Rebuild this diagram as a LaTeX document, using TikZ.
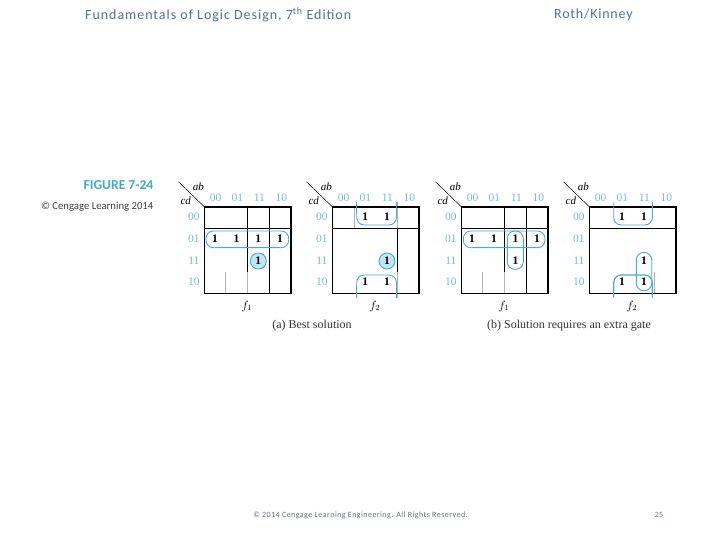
\documentclass[tikz,border=0pt]{standalone}
\usepackage{fontspec}
\setmainfont{Liberation Serif}
\newfontfamily\slidefont{Carlito}
\newfontfamily\slidespaced[LetterSpace=5.6]{Carlito}
\newfontfamily\slidetitle[LetterSpace=6.9]{Carlito}
\definecolor{kblue}{HTML}{45AFD0}
\definecolor{klabel}{HTML}{6FBFD8}
\definecolor{kfill}{HTML}{BFE6F2}
\definecolor{ktitle}{HTML}{4F7396}
\definecolor{kfig}{HTML}{3FA9CC}
\definecolor{kfoot}{HTML}{5F7480}
\newcommand{\kmapbase}[3]{%
  \begin{scope}[shift={(#1,0)}]
    \draw[diag] (-26,-25) -- (0,0);
    \draw[frame] (0,206.7) rectangle (87,293.3);
    \draw[frame,line width=1.8pt] (0,206.7) -- (87,206.7) -- (87,293.3);
    \foreach \t/\c in {00/11.4,01/33,11/55,10/77}{
      \node[coltext] (#3col\t) at (\c,198) {\t};
    }
    \foreach \t/\r in {00/217,01/239,11/261,10/281.5}{
      \node[coltext] (#3row\t) at (-10.5,\r) {\t};
    }
    \node[vartext] (#3ab) at (-6,187) {ab};
    \node[vartext] (#3cd) at (-18.5,201) {cd};
    \node[fname] (#3f) at (42.5,306) {$f_{#2}$};
  \end{scope}}
\tikzset{
  x=1pt,y=-1pt,
  frame/.style={line width=1.3pt,black},
  grid/.style={line width=0.8pt,black},
  faint/.style={line width=0.6pt,gray!60},
  diag/.style={line width=0.5pt,black,shift={(0,206.7)}},
  coltext/.style={font=\fontsize{11.5}{10}\selectfont,text=klabel,inner sep=0pt},
  vartext/.style={font=\fontsize{11}{10}\selectfont\itshape,inner sep=0pt},
  fname/.style={font=\fontsize{12}{11}\selectfont,inner sep=0pt},
  one/.style={font=\fontsize{11.5}{10}\selectfont\bfseries,inner sep=0pt},
  loopline/.style={line width=0.9pt,kblue,rounded corners=7.5pt},
  circ/.style={circle,draw=kblue,fill=kfill,line width=0.9pt,minimum size=16pt,inner sep=0pt},
  head/.style={font=\slidespaced\fontsize{14}{14}\selectfont,text=ktitle,inner sep=0pt,anchor=west},
  capt/.style={font=\fontsize{12}{10}\selectfont,text=black!80,inner sep=0pt},
}
\begin{document}
\begin{tikzpicture}
\useasboundingbox (0,0) rectangle (720,540);
\fill[white] (0,0) rectangle (720,540);
\node[head,font=\slidetitle\fontsize{14}{14}\selectfont] (title) at (85,14.5) {Fundamentals of Logic Design, 7\textsuperscript{th} Edition};
\node[head] (author) at (554,14.5) {Roth/Kinney};
\node[font=\slidefont\bfseries\fontsize{13.6}{12}\selectfont,text=kfig,inner sep=0pt,anchor=east] (figno) at (153.5,185.5) {FIGURE 7-24};
\node[font=\slidefont\fontsize{10.7}{10}\selectfont,text=black!75,inner sep=0pt,anchor=east] (cc) at (153.5,207) {© Cengage Learning 2014};
\node[font=\slidespaced\fontsize{8}{8}\selectfont,text=kfoot,inner sep=0pt] (foot) at (360.5,515) {© 2014 Cengage Learning Engineering. All Rights Reserved.};
\node[font=\slidefont\fontsize{8}{8}\selectfont,text=kfoot,inner sep=0pt] (page) at (659,515) {25};

% map 1
\draw[grid] (204.3,228.5) -- (291,228.5);
\draw[grid] (247.3,206.7) -- (247.3,271.7);
\draw[faint] (247.3,271.7) -- (247.3,293.3);
\draw[faint] (225.3,271.7) -- (225.3,293.3);
\draw[grid] (269.3,206.7) -- (269.3,293.3);
\kmapbase{204.3}{1}{a}
\draw[loopline] (206,231) rectangle (288.7,247.7);
\draw[kblue,line width=1.5pt] (215,247.7) -- (280,247.7);
\node[circ] (a11) at (258.3,261) {};
\foreach \x/\n in {215/a,236.5/b,258.3/c,280/d}{\node[one] (a1\n) at (\x,239) {1};}
\node[one] at (258.3,261) {1};

% map 2
\draw[grid] (332.3,228.5) -- (419.3,228.5);
\draw[faint] (354.3,206.7) -- (354.3,228.5);
\draw[faint] (397.3,201.7) -- (397.3,228.5);
\draw[grid] (397.3,228.5) -- (397.3,272);
\draw[faint] (397.3,272) -- (397.3,298);
\kmapbase{332.3}{2}{b}
\draw[loopline] (356.7,202) -- (356.7,225) -- (396.5,225) -- (396.5,202);
\draw[loopline] (356.7,298) -- (356.7,275) -- (396.5,275) -- (396.5,298);
\draw[kblue,line width=1.4pt] (356.7,202) -- (356.7,214);
\draw[kblue,line width=1.4pt] (356.7,298) -- (356.7,285);
\node[circ] (b11) at (387,261) {};
\node[one] at (387,261) {1};
\foreach \x/\n in {365.3/a,387/b}{
  \node[one] (b00\n) at (\x,216.7) {1};
  \node[one] (b10\n) at (\x,281.7) {1};
}

% map 3
\draw[grid] (461,228.5) -- (548.7,228.5);
\draw[grid] (504.3,206.7) -- (504.3,271.7);
\draw[faint] (504.3,271.7) -- (504.3,293.3);
\draw[faint] (482.3,271.7) -- (482.3,293.3);
\draw[grid] (526.3,206.7) -- (526.3,293.3);
\kmapbase{461.3}{1}{c}
\draw[loopline] (463.3,231) rectangle (545,247.7);
\draw[kblue,line width=1.5pt] (472,247.7) -- (536,247.7);
\draw[loopline] (507.3,231) rectangle (523.3,269.3);
\foreach \x/\n in {472/a,494/b,515.5/c,537/d}{\node[one] (c1\n) at (\x,239) {1};}
\node[one] (c11) at (515.5,261) {1};

% map 4
\draw[grid] (589.3,228.5) -- (676.7,228.5);
\draw[faint] (654.3,271.7) -- (654.3,293.3);
\kmapbase{589.3}{2}{d}
\draw[loopline] (613.7,202.3) -- (613.7,225) -- (652.3,225) -- (652.3,202.3);
\draw[loopline,line width=1.2pt] (613.7,297.3) -- (613.7,275) -- (652.3,275) -- (652.3,297.3);
\draw[loopline] (636.3,252.3) rectangle (651.7,290.7);
\foreach \x/\n in {622/a,644/b}{
  \node[one] (d00\n) at (\x,216.7) {1};
  \node[one] (d10\n) at (\x,281.7) {1};
}
\node[one] (d11) at (644,261) {1};

\node[capt] (capa) at (312,326) {(a) Best solution};
\node[capt] (capb) at (569,326) {(b) Solution requires an extra gate};
\end{tikzpicture}
\end{document}
